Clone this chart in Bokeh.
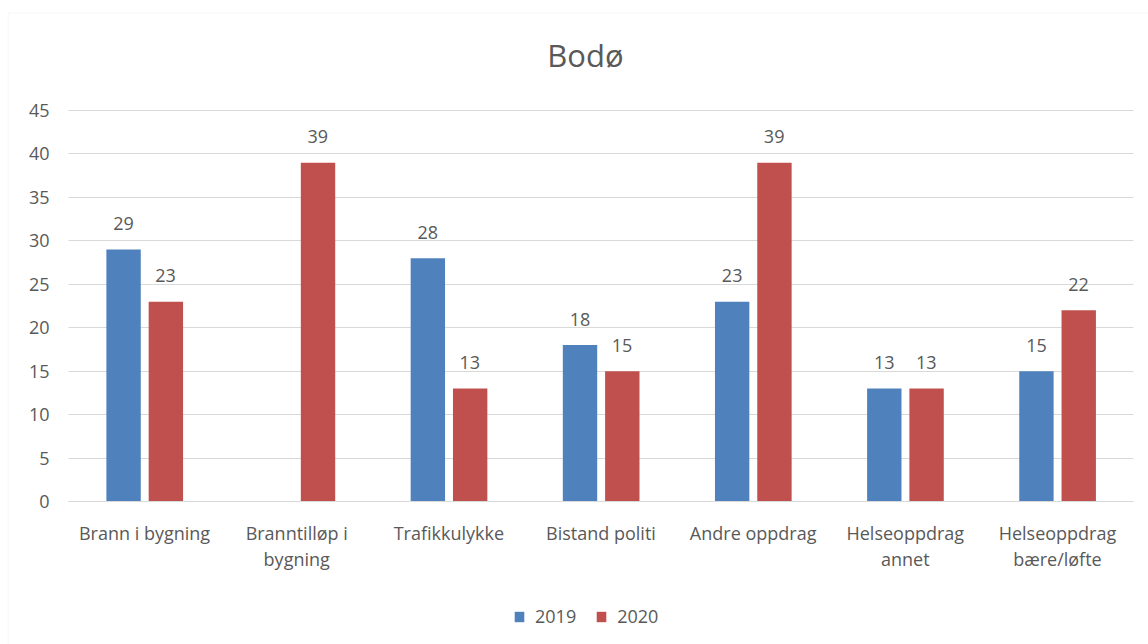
from bokeh.plotting import figure
from bokeh.models import (ColumnDataSource, Range1d, FixedTicker, LabelSet,
                          Label, Legend, LegendItem, BoxAnnotation)
from bokeh.core.properties import value
from bokeh.transform import dodge
from bokeh.embed import file_html
from bokeh.resources import INLINE

categories = ["Brann i bygning", "Branntilløp i\nbygning", "Trafikkulykke", "Bistand politi",
              "Andre oppdrag", "Helseoppdrag\nannet", "Helseoppdrag\nbære/løfte"]
values_2019 = [29, 0, 28, 18, 23, 13, 15]
values_2020 = [23, 39, 13, 15, 39, 13, 22]
series_names = ["2019", "2020"]
y_ticks = [0, 5, 10, 15, 20, 25, 30, 35, 40, 45]
title_text = "Bodø"

FONT = "Open Sans"
TXT = "#595959"
BLUE = "#4f81bd"
RED = "#c0504d"
GRID = "#d9d9d9"

# layout constants (pixels)
W, H = 1148, 644
PX_CAT = 152.14          # px per category
PX_UNIT = 391 / 45       # px per value unit
x_start = -61 / PX_CAT
x_end = len(categories) + 15 / PX_CAT
y_end = 45 + 98 / PX_UNIT
y_start = -143 / PX_UNIT

centers = [i + 0.5 for i in range(len(categories))]
src = ColumnDataSource(dict(xc=centers, v19=values_2019, v20=values_2020))
lab19 = ColumnDataSource(dict(xc=[c for c, v in zip(centers, values_2019) if v > 0],
                              v=[v for v in values_2019 if v > 0],
                              t=[str(v) for v in values_2019 if v > 0]))
lab20 = ColumnDataSource(dict(xc=[c for c, v in zip(centers, values_2020) if v > 0],
                              v=[v for v in values_2020 if v > 0],
                              t=[str(v) for v in values_2020 if v > 0]))

p = figure(x_range=Range1d(x_start, x_end), y_range=Range1d(y_start, y_end),
           width=W, height=H, output_backend="svg", toolbar_location=None,
           min_border_left=7, min_border_right=0, min_border_top=12, min_border_bottom=0)
p.outline_line_color = None
p.background_fill_color = "white"
p.border_fill_color = "white"

r19 = p.vbar(x=dodge("xc", -0.138), top="v19", width=0.226, source=src,
             fill_color=BLUE, line_color=None)
r20 = p.vbar(x=dodge("xc", 0.14), top="v20", width=0.226, source=src,
             fill_color=RED, line_color=None)

for s, off in ((lab19, -21), (lab20, 21)):
    p.add_layout(LabelSet(x="xc", y="v", text="t", source=s, x_offset=off, y_offset=26,
                          text_align="center", text_baseline="middle",
                          text_font=value(FONT), text_font_size="18px", text_color=TXT))

# axes (placed inside the frame)
p.yaxis.fixed_location = 0
p.yaxis.ticker = FixedTicker(ticks=y_ticks)
p.yaxis.axis_line_color = None
p.yaxis.major_tick_line_color = None
p.yaxis.minor_tick_line_color = None
p.yaxis.major_tick_out = 0
p.yaxis.major_tick_in = 0
p.yaxis.major_label_standoff = 19
p.yaxis.major_label_text_font = FONT
p.yaxis.major_label_text_font_size = "18px"
p.yaxis.major_label_text_color = TXT

p.xaxis.fixed_location = 0
p.xaxis.bounds = (0, len(categories))
p.xaxis.ticker = FixedTicker(ticks=centers)
p.xaxis.major_label_overrides = {c: lab for c, lab in zip(centers, categories)}
p.xaxis.axis_line_color = GRID
p.xaxis.major_tick_line_color = None
p.xaxis.minor_tick_line_color = None
p.xaxis.major_tick_out = 0
p.xaxis.major_tick_in = 0
p.xaxis.major_label_standoff = 19
p.xaxis.major_label_text_line_height = 1.1
p.xaxis.major_label_text_font = FONT
p.xaxis.major_label_text_font_size = "18px"
p.xaxis.major_label_text_color = TXT

p.xgrid.grid_line_color = None
p.ygrid.ticker = FixedTicker(ticks=y_ticks)
p.ygrid.grid_line_color = GRID
p.ygrid.grid_line_width = 1
p.ygrid.cross_bounds = (0, len(categories))

# title
p.add_layout(Label(x=3.398, y=51.4, text=title_text, text_align="center", text_baseline="middle",
                   text_font=FONT, text_font_size="31px", text_color=TXT))

# chart border (left and top edges visible)
p.add_layout(BoxAnnotation(left=x_start + 0.5 / PX_CAT, right=x_end + 1, top=y_end - 0.5 / PX_UNIT,
                           bottom=y_start - 5, fill_alpha=0, line_color=GRID, line_width=1))

legend = Legend(items=[LegendItem(label=series_names[0], renderers=[r19]),
                       LegendItem(label=series_names[1], renderers=[r20])],
                orientation="horizontal", location=(506, 16),
                padding=0, margin=0, spacing=19, label_standoff=10,
                glyph_width=12, glyph_height=13, label_height=13,
                border_line_color=None, background_fill_alpha=0,
                label_text_font=FONT, label_text_font_size="18px", label_text_color=TXT)
p.add_layout(legend, "center")

open("out.html", "w").write(file_html(p, INLINE))
